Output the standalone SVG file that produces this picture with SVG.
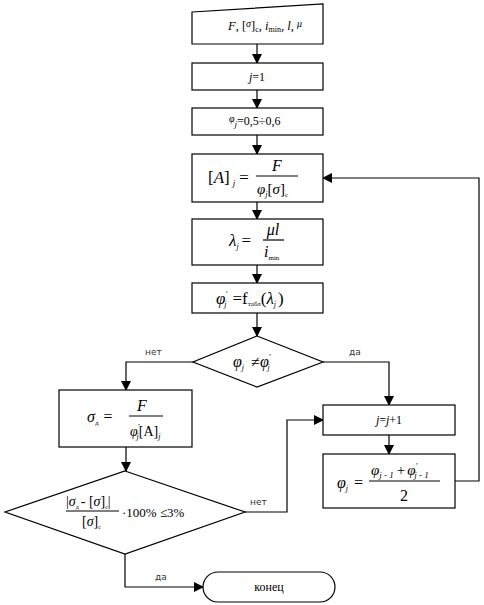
<svg xmlns="http://www.w3.org/2000/svg" width="484" height="605" viewBox="0 0 484 605">
<style>
.b{fill:#fff;stroke:#000;stroke-width:1.2}
.c{fill:none;stroke:#000;stroke-width:1.2}
.t{font-family:"Liberation Serif",serif;fill:#000}
.i{font-style:italic}
.l{font-family:"DejaVu Sans","Liberation Sans",sans-serif;font-size:9px;fill:#333}
</style>
<defs>
<marker id="a" markerWidth="10" markerHeight="10" refX="9" refY="5" orient="auto" markerUnits="userSpaceOnUse">
<path d="M0,0 L10,5 L0,10 Z" fill="#000"/>
</marker>
</defs>
<rect width="484" height="605" fill="#fff"/>
<g id="connectors">
<line class="c" x1="257" y1="44" x2="257" y2="63" marker-end="url(#a)"/>
<line class="c" x1="257" y1="90" x2="257" y2="108" marker-end="url(#a)"/>
<line class="c" x1="257" y1="135" x2="257" y2="154" marker-end="url(#a)"/>
<line class="c" x1="257" y1="202" x2="257" y2="219" marker-end="url(#a)"/>
<line class="c" x1="257" y1="265" x2="257" y2="283" marker-end="url(#a)"/>
<line class="c" x1="257" y1="313" x2="257" y2="336" marker-end="url(#a)"/>
<polyline class="c" points="193,362 126,362 126,390" marker-end="url(#a)"/>
<polyline class="c" points="323,362 389,362 389,405" marker-end="url(#a)"/>
<line class="c" x1="126" y1="447" x2="126" y2="471" marker-end="url(#a)"/>
<line class="c" x1="389" y1="435" x2="389" y2="454" marker-end="url(#a)"/>
<polyline class="c" points="455,481 479,481 479,178 323,178" marker-end="url(#a)"/>
<polyline class="c" points="245,512 287,512 287,420 323,420" marker-end="url(#a)"/>
<polyline class="c" points="125,554 125,587 203,587" marker-end="url(#a)"/>
<text class="l" x="145" y="355">нет</text>
<text class="l" x="349" y="355">да</text>
<text class="l" x="250" y="505">нет</text>
<text class="l" x="155" y="580">да</text>
</g>
<g id="input">
<polygon class="b" points="192,12 323,4 323,44 192,44"/>
<text class="t" x="228" y="30" font-size="12.5"><tspan class="i">F</tspan>, [<tspan class="i" font-size="10" dy="-3">σ</tspan><tspan dy="3">]</tspan><tspan font-size="8" dy="2">c</tspan><tspan dy="-2">, </tspan><tspan class="i">i</tspan><tspan font-size="8" dy="2">min</tspan><tspan dy="-2">, </tspan><tspan class="i">l</tspan>, <tspan class="i" font-size="10" dy="-3">μ</tspan></text>
</g>
<g id="j1">
<rect class="b" x="192" y="63" width="131" height="27"/>
<text class="t" x="257" y="81" font-size="12" text-anchor="middle"><tspan class="i">j</tspan>=1</text>
</g>
<g id="phi0">
<rect class="b" x="192" y="108" width="131" height="27"/>
<text class="t" x="229" y="125" font-size="12"><tspan class="i" font-size="10" dy="-3">φ</tspan><tspan class="i" font-size="9" dy="5">j</tspan><tspan dy="-2">=0,5÷0,6</tspan></text>
</g>
<g id="A">
<rect class="b" x="192" y="154" width="131" height="48"/>
<text class="t" x="208" y="183" font-size="17">[<tspan class="i">A</tspan>]<tspan class="i" font-size="9" dx="3" dy="3">j</tspan><tspan dx="4" dy="-3">=</tspan></text>
<line class="c" x1="256" y1="176" x2="298" y2="176"/>
<text class="t i" x="277" y="171" font-size="16" text-anchor="middle">F</text>
<text class="t" x="257" y="194" font-size="15"><tspan class="i">φ</tspan><tspan class="i" font-size="8" dy="3">j</tspan><tspan dy="-3">[</tspan><tspan class="i">σ</tspan>]<tspan font-size="7" dy="3">c</tspan></text>
</g>
<g id="lambda">
<rect class="b" x="192" y="219" width="131" height="46"/>
<text class="t" x="229" y="246" font-size="17"><tspan class="i">λ</tspan><tspan class="i" font-size="8" dy="3">j</tspan><tspan dx="3" dy="-3">=</tspan></text>
<line class="c" x1="263" y1="240" x2="284" y2="240"/>
<text class="t i" x="273" y="235" font-size="16" text-anchor="middle">μl</text>
<text class="t" x="264" y="257" font-size="16"><tspan class="i">i</tspan><tspan font-size="7" dy="3">min</tspan></text>
</g>
<g id="phiprime">
<rect class="b" x="192" y="283" width="131" height="30"/>
<text class="t" x="216" y="304" font-size="17"><tspan class="i">φ</tspan><tspan class="i" font-size="8" dy="-7">′</tspan><tspan class="i" font-size="8" dx="-3" dy="10">j</tspan><tspan dx="6" dy="-3">=f</tspan><tspan font-size="7" dy="2">табл</tspan><tspan dy="-2">(</tspan><tspan class="i">λ</tspan><tspan class="i" font-size="8" dy="3">j</tspan><tspan dx="2" dy="-3">)</tspan></text>
</g>
<g id="cond1">
<polygon class="b" points="257,336 323,362 257,387 193,362"/>
<text class="t" x="233" y="367" font-size="16"><tspan class="i">φ</tspan><tspan class="i" font-size="8" dy="3">j</tspan><tspan dx="7" dy="-3">≠</tspan><tspan class="i">φ</tspan><tspan class="i" font-size="8" dy="-7">′</tspan><tspan class="i" font-size="8" dx="-3" dy="10">j</tspan></text>
</g>
<g id="sigma">
<rect class="b" x="59" y="390" width="133" height="57"/>
<text class="t" x="87" y="422" font-size="16"><tspan class="i">σ</tspan><tspan font-size="7" dy="3">д</tspan><tspan dx="5" dy="-3">=</tspan></text>
<line class="c" x1="129" y1="416" x2="163" y2="416"/>
<text class="t i" x="142" y="411" font-size="16" text-anchor="middle">F</text>
<text class="t" x="130" y="436" font-size="14"><tspan class="i">φ</tspan><tspan class="i" font-size="8" dy="-6">′</tspan><tspan class="i" font-size="8" dx="-3" dy="9">j</tspan><tspan dy="-3">[</tspan><tspan>A</tspan>]<tspan class="i" font-size="8" dy="3">j</tspan></text>
</g>
<g id="cond2">
<polygon class="b" points="125,471 245,512 125,554 5,512"/>
<text class="t" x="66" y="506" font-size="14">|<tspan class="i">σ</tspan><tspan font-size="6" dy="3">д</tspan><tspan dx="2" dy="-3">- [</tspan><tspan class="i">σ</tspan>]<tspan font-size="6" dy="3">c</tspan><tspan dy="-3">|</tspan></text>
<line class="c" x1="66" y1="511" x2="119" y2="511"/>
<text class="t" x="82" y="526" font-size="14">[<tspan class="i">σ</tspan>]<tspan font-size="6" dy="3">c</tspan></text>
<text class="t" x="122" y="517" font-size="13">·100% ≤3%</text>
</g>
<g id="jinc">
<rect class="b" x="323" y="405" width="132" height="30"/>
<text class="t" x="389" y="424" font-size="12" text-anchor="middle"><tspan class="i">j</tspan>=<tspan class="i">j</tspan>+1</text>
</g>
<g id="phinew">
<rect class="b" x="323" y="454" width="132" height="54"/>
<text class="t" x="337" y="488" font-size="16"><tspan class="i">φ</tspan><tspan class="i" font-size="8" dy="3">j</tspan><tspan dx="6" dy="-3">=</tspan></text>
<line class="c" x1="369" y1="481" x2="440" y2="481"/>
<text class="t" x="371" y="475" font-size="15"><tspan class="i">φ</tspan><tspan class="i" font-size="9" dy="3">j - 1</tspan><tspan dx="3" dy="-3">+</tspan><tspan class="i" dx="2">φ</tspan><tspan class="i" font-size="8" dy="-6">′</tspan><tspan class="i" font-size="9" dx="-3" dy="9">j - 1</tspan></text>
<text class="t" x="404" y="501" font-size="16" text-anchor="middle">2</text>
</g>
<g id="end">
<rect class="b" x="203" y="572" width="132" height="30" rx="15"/>
<text class="t" x="269" y="591" font-size="12" text-anchor="middle">конец</text>
</g>
</svg>
